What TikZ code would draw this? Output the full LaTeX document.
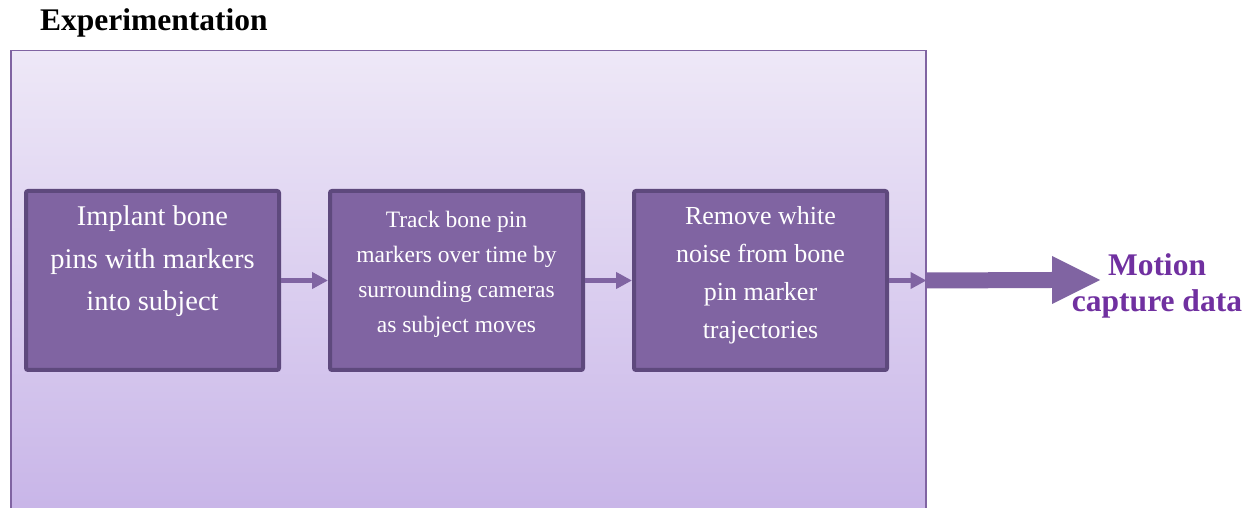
\documentclass[tikz,border=0pt]{standalone}
\usepackage{fontspec}
\setmainfont{Liberation Serif}
\usetikzlibrary{arrows.meta,calc}

\definecolor{panelTop}{RGB}{238,232,247}
\definecolor{panelBot}{RGB}{200,181,232}
\definecolor{panelEdge}{RGB}{128,100,162}
\definecolor{stepFill}{RGB}{128,100,162}
\definecolor{stepEdge}{RGB}{94,73,125}
\definecolor{outText}{RGB}{112,48,160}

\tikzset{
  panel/.style={draw=panelEdge, line width=1.5pt, top color=panelTop,
    bottom color=panelBot, minimum width=915pt, minimum height=463pt,
    anchor=north west, inner sep=0pt},
  stepbox/.style={draw=stepEdge, line width=4pt, fill=stepFill,
    rounded corners=2pt, minimum width=253pt, minimum height=179pt,
    inner sep=0pt},
  steptext/.style={text=white, align=center, inner sep=0pt},
  link/.style={draw=panelEdge, line width=5pt,
    -{Triangle[length=16pt 0 0, width=16pt 0 0]}},
  bigarrow/.style={fill=panelEdge},
}

\begin{document}
\begin{tikzpicture}[x=1pt, y=1pt]
  \useasboundingbox (0,0) rectangle (1255,508);

  % shaded panel holding the experiment steps
  \node[panel] (panel) at (10,458) {};
  \node[anchor=base west, inner sep=0pt,
        font=\bfseries\fontsize{31.5}{36}\selectfont] (title) at (40,477)
        {Experimentation};

  % the three steps
  \node[stepbox] (b1) at (152.5,227.5) {};
  \node[stepbox] (b2) at (456.5,227.5) {};
  \node[stepbox] (b3) at (760.5,227.5) {};

  \node[steptext, font=\fontsize{28.5}{42.5}\selectfont] (t1)
    at ([yshift=19pt]b1.center) {Implant bone\\pins with markers\\into subject};
  \node[steptext, font=\fontsize{23.5}{35}\selectfont] (t2)
    at ([yshift=6.5pt]b2.center)
    {Track bone pin\\markers over time by\\surrounding cameras\\as subject moves};
  \node[steptext, font=\fontsize{26}{38}\selectfont] (t3)
    at ([yshift=5.5pt]b3.center)
    {Remove white\\noise from bone\\pin marker\\trajectories};

  % flow between steps
  \draw[link] (b1.east) -- (b2.west);
  \draw[link] (b2.east) -- (b3.west);
  \coordinate (exit) at (b3.east -| panel.east);
  \draw[link] (b3.east) -- (exit);

  % result: block arrow leaving the panel
  \coordinate (tip) at (1100,228);
  \fill[bigarrow] ([yshift=8pt]exit) -- ([xshift=-48pt,yshift=8pt]tip)
    -- ([xshift=-48pt,yshift=24pt]tip) -- (tip)
    -- ([xshift=-48pt,yshift=-24pt]tip) -- ([xshift=-48pt,yshift=-8pt]tip)
    -- ([yshift=-8pt]exit) -- cycle;
  \node[text=outText, align=center, inner sep=0pt,
        font=\bfseries\fontsize{31.5}{36}\selectfont] (out) at (1157,222)
        {Motion\\capture data};
\end{tikzpicture}
\end{document}
